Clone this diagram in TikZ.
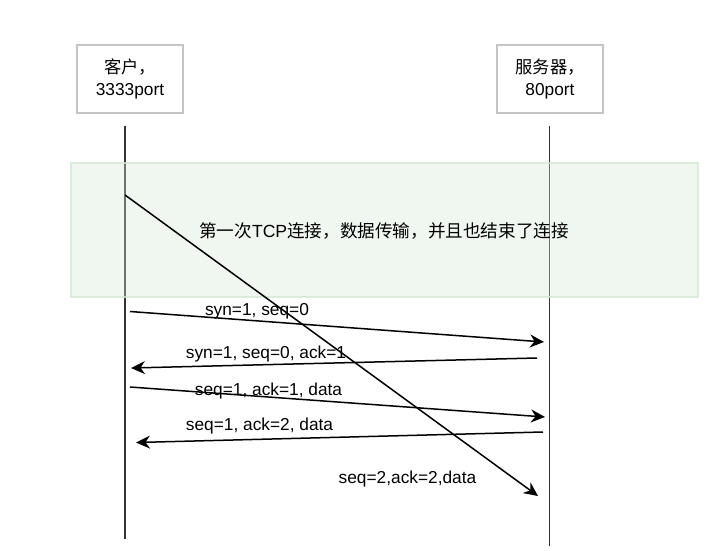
\documentclass[tikz,border=0pt]{standalone}
\usepackage{fontspec}
\setmainfont{Liberation Sans}
\newfontfamily\cjk{Noto Sans CJK SC}
\usetikzlibrary{arrows.meta}
\definecolor{boxline}{HTML}{C4C4C4}
\definecolor{lifeline}{HTML}{333333}
\definecolor{groupfill}{HTML}{D5E8D4}
\tikzset{
  party/.style={draw=boxline, line width=1.4pt, fill=white, minimum width=106pt,
    minimum height=68pt, align=center, font=\fontsize{17.3}{22}\selectfont, inner sep=0pt},
  life/.style={draw=lifeline, line width=1.5pt},
  group/.style={draw=groupfill, draw opacity=0.8, fill=groupfill, fill opacity=0.35, line width=1.2pt},
  msg/.style={draw=black, line width=1.5pt, -{Stealth[length=14pt,width=13pt,inset=4.5pt]}},
  lbl/.style={font=\fontsize{17.3}{20}\selectfont, inner sep=0pt, anchor=center},
}
\begin{document}
\begin{tikzpicture}[x=1pt, y=-1pt]
  \useasboundingbox (0,0) rectangle (726,551);

  % participants
  \node[party] (client) at (130,79) {{\cjk 客户，}\\3333port};
  \node[party] (server) at (550,79) {{\cjk 服务器，}\\80port};

  % lifeline end points
  \coordinate (cTop) at (125,126);
  \coordinate (cBot) at (125,539);
  \coordinate (sTop) at (549.5,126);
  \coordinate (sBot) at (549.5,546);
  \draw[life] (cTop) -- (cBot);
  \draw[life] (sTop) -- (sBot);

  % first connection group
  \path[group] (71,163) rectangle (698,297);
  \node[lbl, font=\fontsize{17.6}{20}\selectfont] (grp) at (384,231)
    {{\cjk 第一次}TCP{\cjk 连接，数据传输，并且也结束了连接}};

  % message end points
  \coordinate (d0) at (125,195);   \coordinate (d1) at (538,496);
  \coordinate (a0) at (130,311.5); \coordinate (a1) at (544,342);
  \coordinate (b0) at (537,358);   \coordinate (b1) at (131,368);
  \coordinate (c0) at (130,387);   \coordinate (c1) at (545,417);
  \coordinate (e0) at (543,432);   \coordinate (e1) at (136,442.5);

  \draw[msg] (d0) -- (d1);
  \draw[msg] (a0) -- (a1);
  \draw[msg] (b0) -- (b1);
  \draw[msg] (c0) -- (c1);
  \draw[msg] (e0) -- (e1);

  % message labels
  \node[lbl] (la) at (257,311) {syn=1, seq=0};
  \node[lbl] (lb) at (266,354) {syn=1, seq=0, ack=1};
  \node[lbl] (lc) at (268.5,391) {seq=1, ack=1, data};
  \node[lbl] (ld) at (259.5,426) {seq=1, ack=2, data};
  \node[lbl] (le) at (407.5,479) {seq=2,ack=2,data};
\end{tikzpicture}
\end{document}
